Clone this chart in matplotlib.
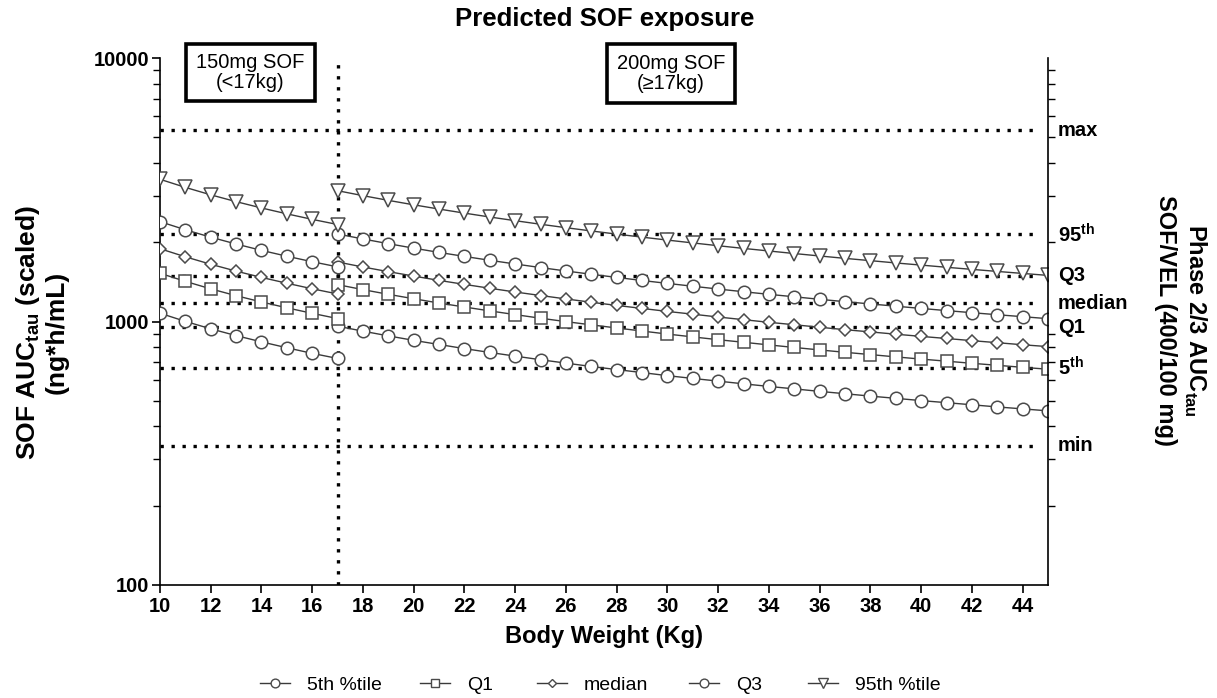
import matplotlib
matplotlib.use("Agg")
import matplotlib.pyplot as plt
import matplotlib.transforms as mtrans
from matplotlib.lines import Line2D
from matplotlib.patches import Rectangle
from matplotlib.ticker import LogLocator, NullFormatter

plt.rcParams['font.family'] = ['Liberation Sans', 'DejaVu Sans']
plt.rcParams['mathtext.fontset'] = 'custom'
plt.rcParams['mathtext.rm'] = 'Liberation Sans'
plt.rcParams['mathtext.bf'] = 'Liberation Sans:bold'

# ---- data ----
weight_150 = [10, 11, 12, 13, 14, 15, 16, 17]
weight_200 = list(range(17, 46))

p95_150 = [3465, 3228, 3025, 2850, 2697, 2562, 2441, 2334]
q3_150 = [2393, 2229, 2089, 1968, 1862, 1769, 1686, 1612]
med_150 = [1889, 1760, 1649, 1553, 1470, 1397, 1331, 1272]
q1_150 = [1524, 1420, 1330, 1253, 1186, 1127, 1074, 1026]
p5_150 = [1075, 1001, 938, 884, 837, 795, 757, 724]

p95_200 = [3136, 3003, 2882, 2772, 2671, 2578, 2492, 2413, 2339, 2270, 2206,
           2146, 2090, 2037, 1987, 1939, 1894, 1852, 1811, 1773, 1736, 1702,
           1668, 1637, 1606, 1577, 1549, 1522, 1496]
q3_200 = [2148, 2057, 1974, 1898, 1829, 1766, 1707, 1653, 1602, 1555, 1511,
          1470, 1431, 1395, 1361, 1328, 1297, 1268, 1241, 1214, 1189, 1166,
          1143, 1121, 1100, 1080, 1061, 1043, 1025]
med_200 = [1682, 1610, 1546, 1487, 1432, 1383, 1337, 1294, 1255, 1218, 1183,
           1151, 1121, 1092, 1066, 1040, 1016, 993, 972, 951, 931, 913, 895,
           878, 862, 846, 831, 816, 803]
q1_200 = [1380, 1321, 1268, 1220, 1175, 1135, 1097, 1062, 1029, 999, 971,
          945, 920, 896, 874, 853, 834, 815, 797, 780, 764, 749, 734, 720,
          707, 694, 682, 670, 659]
p5_200 = [960, 919, 882, 848, 818, 789, 763, 739, 716, 695, 675, 657, 640,
          623, 608, 594, 580, 567, 555, 543, 532, 521, 511, 501, 492, 483,
          474, 466, 458]

ref_names = ['max', '95$^{\\mathbf{th}}$', 'Q3', 'median', 'Q1', '5$^{\\mathbf{th}}$', 'min']
ref_values = [5330, 2140, 1490, 1175, 953, 666, 337]

legend_labels = ['5th %tile', 'Q1', 'median', 'Q3', '95th %tile']
x_ticks = list(range(10, 45, 2))

# ---- figure ----
W, H = 1217, 698
fig = plt.figure(figsize=(W / 100, H / 100), dpi=100)
ax = fig.add_axes([160 / W, 1 - 585 / H, (1048 - 160) / W, (585 - 58) / H])

line_c = '#3a3a3a'
edge_c = '#4a4a4a'
styles = [
    (p5_150, p5_200, 'o', 9),
    (q1_150, q1_200, 's', 9),
    (med_150, med_200, 'D', 6.5),
    (q3_150, q3_200, 'o', 9),
    (p95_150, p95_200, 'v', 9.5),
]
for s150, s200, mk, ms in styles:
    for xs, ys in ((weight_150, s150), (weight_200, s200)):
        ax.plot(xs, ys, color=line_c, lw=1.0, marker=mk, ms=ms,
                mfc='white', mec=edge_c, mew=1.1, zorder=3)

dot = (0, (1, 2.3))
ax.hlines(ref_values, 10, 44.7, colors='black', linestyles=[dot], lw=2.4, zorder=2)
ax.vlines(17, 100, 10000, colors='black', linestyles=[dot], lw=2.4, zorder=2)

ax.set_yscale('log')
ax.set_ylim(100, 10000)
ax.set_xlim(10, 45)
ax.set_xticks(x_ticks)
ax.set_yticks([100, 1000, 10000])
ax.set_yticklabels(['100', '1000', '10000'])
ax.yaxis.set_minor_locator(LogLocator(base=10, subs=range(2, 10)))
ax.yaxis.set_minor_formatter(NullFormatter())

for sp in ['top', 'right']:
    ax.spines[sp].set_visible(False)
for sp in ['left', 'bottom']:
    ax.spines[sp].set_linewidth(1.2)
ax.tick_params(axis='both', which='major', direction='out', length=6, width=1.2,
               labelsize=14.5)
ax.tick_params(axis='y', which='minor', direction='out', length=5, width=1.0)
for lab in ax.get_xticklabels() + ax.get_yticklabels():
    lab.set_fontweight('bold')
ax.tick_params(axis='x', pad=3)
ax.tick_params(axis='y', pad=2)

# right axis
ax2 = ax.twinx()
ax2.set_yscale('log')
ax2.set_ylim(100, 10000)
ax2.set_yticks([])
ax2.yaxis.set_minor_locator(LogLocator(base=10, subs=range(2, 10)))
ax2.yaxis.set_minor_formatter(NullFormatter())
ax2.tick_params(axis='y', which='minor', direction='out', length=5, width=1.0)
for sp in ['top', 'left', 'bottom']:
    ax2.spines[sp].set_visible(False)
ax2.spines['right'].set_linewidth(1.2)

tr = mtrans.blended_transform_factory(ax.transAxes, ax.transData)
for name, v in zip(ref_names, ref_values):
    ax.text(1.011, v, name, transform=tr, ha='left', va='center',
            fontsize=14.5, fontweight='bold', clip_on=False)

ax.set_xlabel('Body Weight (Kg)', fontsize=17, fontweight='bold', labelpad=6)

fig.text(605 / W, 1 - 19 / H, 'Predicted SOF exposure', ha='center', va='center',
         fontsize=18.5, fontweight='bold')

fig.text(41 / W, 1 - 332 / H, 'SOF AUC$_{\\mathbf{tau}}$ (scaled)\n(ng*h/mL)',
         rotation=90, ha='center', va='center', fontsize=19, fontweight='bold',
         multialignment='center', linespacing=1.15)
fig.text(1181 / W, 1 - 320 / H, 'Phase 2/3 AUC$_{\\mathbf{tau}}$\nSOF/VEL (400/100 mg)',
         rotation=270, ha='center', va='center', fontsize=17, fontweight='bold',
         multialignment='center', linespacing=1.25)

# dose boxes
for (x0, x1, y0, y1, txt) in [(186, 315, 44, 101, '150mg SOF\n(<17kg)'),
                              (607, 735, 44, 103, '200mg SOF\n(\u226517kg)')]:
    fig.patches.append(Rectangle((x0 / W, 1 - y1 / H), (x1 - x0) / W, (y1 - y0) / H,
                                 transform=fig.transFigure, fill=True, fc='white',
                                 ec='black', lw=2.6, zorder=5))
    fig.text((x0 + x1) / 2 / W, 1 - (y0 + y1) / 2 / H, txt, ha='center', va='center',
             fontsize=14.5, multialignment='center', zorder=6, linespacing=1.05)

# legend: one entry per position
legend_x = [260, 420, 537, 689, 808]
for (_, _, mk, ms), lab, lx in zip(styles, legend_labels, legend_x):
    h = Line2D([], [], color=line_c, lw=1.0, marker=mk, ms=ms * 0.7,
               mfc='white', mec=edge_c, mew=1.0)
    fig.legend([h], [lab], loc='center left', bbox_to_anchor=(lx / W, 1 - 685 / H),
               frameon=False, fontsize=14, handlelength=1.55, handletextpad=0.85,
               borderpad=0, borderaxespad=0)

fig.savefig('out.png', dpi=100)
